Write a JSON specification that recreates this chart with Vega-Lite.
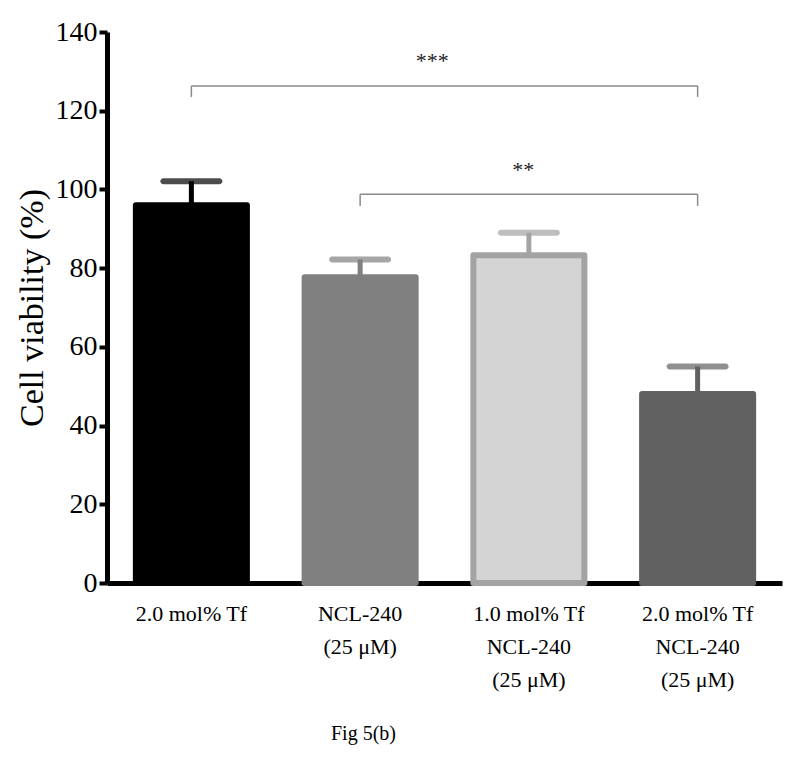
{
  "$schema": "https://vega.github.io/schema/vega-lite/v6.json",
  "autosize": {"type": "none"},
  "width": 675,
  "height": 551,
  "padding": {"left": 107, "top": 32, "right": 18, "bottom": 184},
  "background": "white",
  "config": {
    "view": {"stroke": null},
    "font": "Liberation Serif",
    "axis": {"labelFont": "Liberation Serif", "titleFont": "Liberation Serif"},
    "text": {"font": "Liberation Serif"}
  },
  "datasets": {
    "bars": [
      {"group": "2.0 mol% Tf", "mean": 96.0, "err": 102.1},
      {"group": "NCL-240|(25 μM)", "mean": 77.7, "err": 82.2},
      {"group": "1.0 mol% Tf|NCL-240|(25 μM)", "mean": 83.3, "err": 89.0},
      {"group": "2.0 mol% Tf|NCL-240|(25 μM)", "mean": 48.0, "err": 55.0}
    ],
    "brackets": [
      {"from": "2.0 mol% Tf", "to": "2.0 mol% Tf|NCL-240|(25 μM)", "y": 126.3, "yEnd": 123.5, "label": "***", "ly": 132.6, "mid": "NCL-240|(25 μM)"},
      {"from": "NCL-240|(25 μM)", "to": "2.0 mol% Tf|NCL-240|(25 μM)", "y": 98.8, "yEnd": 95.8, "label": "**", "ly": 104.9, "mid": "1.0 mol% Tf|NCL-240|(25 μM)"}
    ]
  },
  "encoding": {
    "x": {
      "field": "group", "type": "nominal", "sort": null,
      "scale": {
        "domain": ["2.0 mol% Tf", "NCL-240|(25 μM)", "1.0 mol% Tf|NCL-240|(25 μM)", "2.0 mol% Tf|NCL-240|(25 μM)"],
        "paddingInner": 0.342, "paddingOuter": 0.171
      },
      "axis": {
        "title": "Fig 5(b)",
        "titleFont": "Liberation Serif", "titleFontSize": 20, "titleFontWeight": "normal", "titleColor": "black",
        "titleX": 256, "titleY": 150, "titleBaseline": "middle", "titleAlign": "center", "titleAnchor": null,
        "labelExpr": "split(datum.label, '|')",
        "labelAngle": 0, "labelFont": "Liberation Serif", "labelFontSize": 22, "labelLineHeight": 33,
        "labelColor": "black", "labelPadding": 20, "labelBaseline": "top",
        "ticks": false, "domainColor": "black", "domainWidth": 5
      }
    }
  },
  "layer": [
    {
      "data": {"name": "bars"},
      "mark": {"type": "rule", "strokeWidth": 5},
      "encoding": {
        "y": {"field": "mean", "type": "quantitative"},
        "y2": {"field": "err"},
        "color": {
          "field": "group", "type": "nominal",
          "scale": {
            "domain": ["2.0 mol% Tf", "NCL-240|(25 μM)", "1.0 mol% Tf|NCL-240|(25 μM)", "2.0 mol% Tf|NCL-240|(25 μM)"],
            "range": ["#000000", "#808080", "#a3a3a3", "#616161"]
          },
          "legend": null
        }
      }
    },
    {
      "data": {"name": "bars"},
      "mark": {"type": "tick", "size": 62, "thickness": 6, "cornerRadius": 3},
      "encoding": {
        "y": {"field": "err", "type": "quantitative"},
        "color": {"field": "group", "type": "nominal", "legend": null}
      }
    },
    {
      "data": {"name": "bars"},
      "mark": {"type": "bar", "strokeWidth": 6, "strokeJoin": "round"},
      "encoding": {
        "y": {
          "field": "mean", "type": "quantitative",
          "scale": {"domain": [0, 140], "nice": false},
          "axis": {
            "title": "Cell viability (%)",
            "titleFont": "Liberation Serif", "titleFontSize": 34, "titleFontWeight": "normal", "titleColor": "black",
            "titlePadding": 6,
            "values": [0, 20, 40, 60, 80, 100, 120, 140],
            "grid": false,
            "labelFont": "Liberation Serif", "labelFontSize": 28, "labelColor": "black", "labelPadding": 2,
            "tickSize": 8, "tickWidth": 4, "tickColor": "black",
            "domainColor": "black", "domainWidth": 5
          }
        },
        "fill": {
          "field": "group", "type": "nominal",
          "scale": {
            "domain": ["2.0 mol% Tf", "NCL-240|(25 μM)", "1.0 mol% Tf|NCL-240|(25 μM)", "2.0 mol% Tf|NCL-240|(25 μM)"],
            "range": ["#000000", "#808080", "#d4d4d4", "#616161"]
          },
          "legend": null
        },
        "stroke": {
          "field": "group", "type": "nominal",
          "scale": {
            "domain": ["2.0 mol% Tf", "NCL-240|(25 μM)", "1.0 mol% Tf|NCL-240|(25 μM)", "2.0 mol% Tf|NCL-240|(25 μM)"],
            "range": ["#000000", "#808080", "#a3a3a3", "#616161"]
          },
          "legend": null
        }
      }
    },
    {
      "data": {"name": "brackets"},
      "mark": {"type": "rule", "color": "#8a8a8a", "strokeWidth": 1.5},
      "encoding": {
        "x": {"field": "from", "type": "nominal"},
        "x2": {"field": "to"},
        "y": {"field": "y", "type": "quantitative"}
      }
    },
    {
      "data": {"name": "brackets"},
      "mark": {"type": "rule", "color": "#8a8a8a", "strokeWidth": 1.5},
      "encoding": {
        "x": {"field": "from", "type": "nominal"},
        "y": {"field": "y", "type": "quantitative"},
        "y2": {"field": "yEnd"}
      }
    },
    {
      "data": {"name": "brackets"},
      "mark": {"type": "rule", "color": "#8a8a8a", "strokeWidth": 1.5},
      "encoding": {
        "x": {"field": "to", "type": "nominal"},
        "y": {"field": "y", "type": "quantitative"},
        "y2": {"field": "yEnd"}
      }
    },
    {
      "data": {"name": "brackets"},
      "transform": [{"filter": "datum.label == '***'"}],
      "mark": {"type": "text", "font": "Liberation Serif", "fontSize": 22, "color": "#222222", "baseline": "middle"},
      "encoding": {
        "x": {"field": "mid", "type": "nominal", "bandPosition": 1.15},
        "y": {"field": "ly", "type": "quantitative"},
        "text": {"field": "label"}
      }
    },
    {
      "data": {"name": "brackets"},
      "transform": [{"filter": "datum.label == '**'"}],
      "mark": {"type": "text", "font": "Liberation Serif", "fontSize": 22, "color": "#222222", "baseline": "middle"},
      "encoding": {
        "x": {"field": "mid", "type": "nominal", "bandPosition": 0.45},
        "y": {"field": "ly", "type": "quantitative"},
        "text": {"field": "label"}
      }
    }
  ]
}
